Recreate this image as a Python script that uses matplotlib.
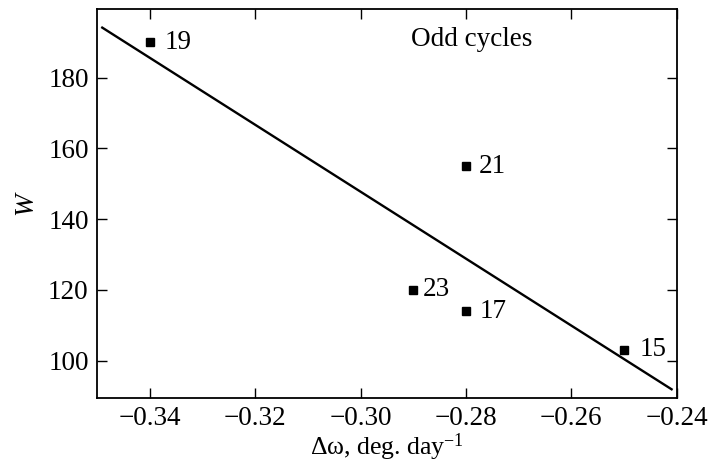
import numpy as np
import matplotlib.pyplot as plt

# odd solar cycles: rotation difference vs. Wolf number
cycles = ["19", "21", "23", "17", "15"]
d_omega = [-0.34, -0.28, -0.29, -0.28, -0.25]
wolf = [190, 155, 120, 114, 103]

plt.rcParams["font.family"] = "Liberation Serif"
plt.rcParams["mathtext.fontset"] = "custom"
plt.rcParams["mathtext.rm"] = "Liberation Serif"
plt.rcParams["mathtext.it"] = "Liberation Serif:italic"

fig = plt.figure(figsize=(7.11, 4.63), dpi=100)
ax = fig.add_axes([0.1364, 0.141, 0.8156, 0.840])

# least-squares regression line
k, b = np.polyfit(d_omega, wolf, 1)
xl = np.array([-0.349, -0.241])
ax.plot(xl, k * xl + b, color="black", lw=1.7)

ax.plot(d_omega, wolf, "s", color="black", ms=5.5)
offsets = {"19": 11, "21": 9, "23": 7, "17": 10, "15": 11}
for c, x, y in zip(cycles, d_omega, wolf):
    ax.annotate(c, (x, y), xytext=(offsets[c], 0), textcoords="offset points",
                va="center", ha="left", fontsize=19.5)

ax.text(0.647, 0.92, "Odd cycles", transform=ax.transAxes, ha="center",
        va="center", fontsize=19.5)

ax.set_xlim(-0.35, -0.24)
ax.set_ylim(89.5, 199.5)
ax.set_xticks([-0.34, -0.32, -0.30, -0.28, -0.26, -0.24])
ax.set_yticks([100, 120, 140, 160, 180])
ax.tick_params(direction="in", length=7, width=1, top=True, right=True,
               labelsize=19.5)
ax.tick_params(axis="x", pad=6)
ax.tick_params(axis="y", pad=6)
for s in ax.spines.values():
    s.set_linewidth(1.3)

ax.set_xlabel("Δω, deg. day$^{-1}$", fontsize=18.5, labelpad=0)
ax.set_ylabel("$W$", fontsize=19.5, labelpad=6)

fig.savefig("out.png", dpi=100)
